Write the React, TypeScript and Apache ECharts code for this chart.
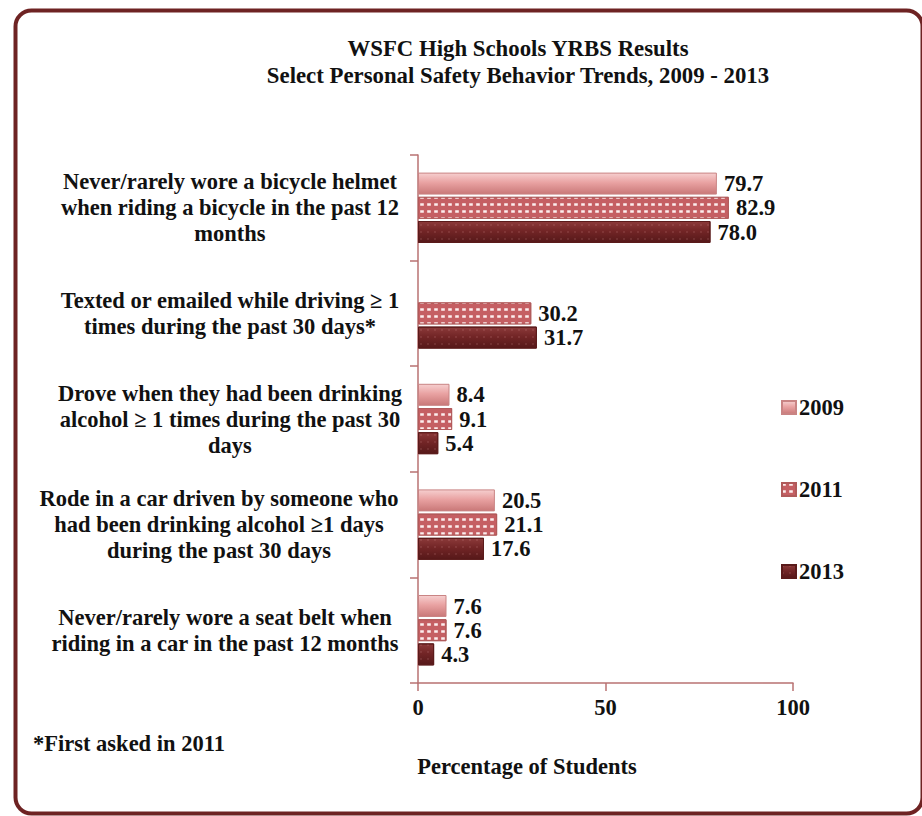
import React, { useEffect, useRef } from "react";
import * as echarts from "echarts";

const categories = [
  "Never/rarely wore a bicycle helmet\nwhen riding a bicycle in the past 12\nmonths",
  "Texted or emailed while driving ≥ 1\ntimes during the past 30 days*",
  "Drove when they had been drinking\nalcohol ≥ 1 times during the past 30\ndays",
  "Rode in a car driven by someone who\nhad been drinking alcohol ≥1 days\nduring the past 30 days",
  "Never/rarely wore a seat belt when\nriding in a car in the past 12 months",
];
const seriesNames = ["2009", "2011", "2013"];
const values2009 = [79.7, null, 8.4, 20.5, 7.6];
const values2011 = [82.9, 30.2, 9.1, 21.1, 7.6];
const values2013 = [78.0, 31.7, 5.4, 17.6, 4.3];
const xTicks = [0, 50, 100];

const labelWidths = [342, 342, 342, 364, 352];
const FONT = "'Liberation Serif', 'Times New Roman', serif";
const FS = 22.5;

export default function App() {
  const ref = useRef<HTMLDivElement>(null);
  useEffect(() => {
    if (!ref.current) return;
    const chart = echarts.init(ref.current, null, { renderer: "svg" });
    const rich: Record<string, any> = {};
    labelWidths.forEach((w, i) => {
      rich["c" + i] = {
        width: w,
        align: "center",
        fontFamily: FONT,
        fontWeight: "bold",
        fontSize: FS,
        lineHeight: 26,
        color: "#111",
      };
    });
    const valueLabel = {
      show: true,
      position: "right",
      distance: 7,
      fontFamily: FONT,
      fontWeight: "bold",
      fontSize: FS,
      color: "#111",
      formatter: (p: any) => (p.value == null ? "" : Number(p.value).toFixed(1)),
    };
    const mk = (name: string, data: (number | null)[], style: any) => ({
      name,
      type: "bar",
      data,
      barWidth: 22,
      barGap: "10%",
      label: valueLabel,
      itemStyle: style,
    });
    const grad = (a: string, b: string, c: string) =>
      new echarts.graphic.LinearGradient(0, 0, 0, 1, [
        { offset: 0, color: a },
        { offset: 0.45, color: b },
        { offset: 1, color: c },
      ]);
    chart.setOption({
      animation: false,
      backgroundColor: "#fff",
      textStyle: { fontFamily: FONT },
      title: [
        {
          text: "WSFC High Schools YRBS Results\nSelect Personal Safety Behavior Trends, 2009 - 2013",
          left: 513,
          top: 30,
          textAlign: "center",
          textStyle: {
            fontFamily: FONT,
            fontWeight: "bold",
            fontSize: 22.8,
            lineHeight: 27,
            color: "#111",
            align: "center",
          },
        },
        {
          text: "Percentage of Students",
          left: 522,
          top: 750,
          textAlign: "center",
          textStyle: { fontFamily: FONT, fontWeight: "bold", fontSize: FS, color: "#111" },
        },
        {
          text: "*First asked in 2011",
          left: 28,
          top: 727,
          textStyle: { fontFamily: FONT, fontWeight: "bold", fontSize: FS, color: "#111" },
        },
      ],
      legend: {
        orient: "vertical",
        left: 776,
        top: 391,
        itemWidth: 14,
        itemHeight: 13,
        itemGap: 59,
        icon: "rect",
        textStyle: { fontFamily: FONT, fontWeight: "bold", fontSize: FS, color: "#111", padding: [0, 0, 0, -2] },
        data: seriesNames,
      },
      grid: { left: 418, right: 129, top: 155, bottom: 133, containLabel: false },
      xAxis: {
        type: "value",
        min: 0,
        max: 100,
        interval: 50,
        splitLine: { show: false },
        axisLine: { show: true, lineStyle: { color: "#b87272", width: 1.5 } },
        axisTick: { show: true, length: 8, lineStyle: { color: "#b87272", width: 1.5 } },
        axisLabel: {
          margin: 13,
          fontFamily: FONT,
          fontWeight: "bold",
          fontSize: FS,
          color: "#111",
          formatter: (v: number) => (xTicks.includes(v) ? String(v) : ""),
        },
      },
      yAxis: {
        type: "category",
        inverse: true,
        data: categories,
        axisLine: { show: true, lineStyle: { color: "#b87272", width: 1.5 } },
        axisTick: { show: true, length: 8, lineStyle: { color: "#b87272", width: 1.5 } },
        axisLabel: {
          margin: 17,
          align: "right",
          formatter: (v: string) => {
            const i = categories.indexOf(v);
            return v
              .split("\n")
              .map((l) => `{c${i}|${l}}`)
              .join("\n");
          },
          rich,
        },
      },
      series: [
        mk(seriesNames[0], values2009, {
          color: grad("#f6cfcf", "#e9a2a2", "#c97878"),
          borderColor: "#c98484",
          borderWidth: 1,
        }),
        mk(seriesNames[1], values2011, {
          color: "#c55f63",
          borderColor: "#b05a5a",
          borderWidth: 1,
          decal: {
            symbol: "rect",
            symbolSize: 0.9,
            dashArrayX: [4, 3],
            dashArrayY: [3, 4],
            color: "rgba(255,245,245,0.95)",
            rotation: 0,
          },
        }),
        mk(seriesNames[2], values2013, {
          color: grad("#8c3a3a", "#722526", "#561819"),
          borderColor: "#5a1a1a",
          borderWidth: 1,
          decal: {
            symbol: "rect",
            symbolSize: 0.5,
            dashArrayX: [2, 5],
            dashArrayY: [2, 5],
            color: "rgba(220,150,150,0.6)",
            rotation: 0,
          },
        }),
      ],
      graphic: [
        {
          type: "rect",
          left: 13,
          top: 8,
          shape: { width: 907, height: 803, r: 16 },
          style: { fill: "none", stroke: "#6e2323", lineWidth: 4 },
          silent: true,
        },
      ],
    });
    return () => chart.dispose();
  }, []);
  return (
    <div
      ref={ref}
      style={{ position: "fixed", left: 0, top: 0, width: 922, height: 816 }}
    />
  );
}
